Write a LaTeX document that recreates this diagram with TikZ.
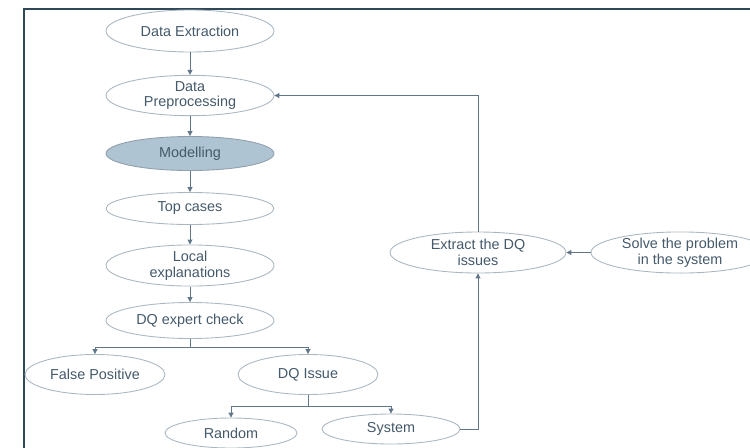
\documentclass[tikz,border=0pt]{standalone}
\usepackage{fontspec}
\setmainfont{Liberation Sans}
\usepackage{xcolor}
\usepackage{tikz}
\usetikzlibrary{shapes.geometric,arrows.meta}

\definecolor{frame}{HTML}{2F4858}
\definecolor{ink}{HTML}{44596A}
\definecolor{rim}{HTML}{A9B7C1}
\definecolor{wire}{HTML}{62768A}
\definecolor{shade}{HTML}{AEC4D2}

\begin{document}
\begin{tikzpicture}[
		box/.style={ellipse, draw=rim, line width=0.5pt, text=ink, inner sep=0pt, align=center,
			minimum width=3.36cm, minimum height=0.74cm, font=\fontsize{8.2}{8.9}\selectfont},
		flow/.style={draw=wire, line width=0.5pt, -{Triangle[length=2.8pt,width=2.8pt]}},
		link/.style={draw=wire, line width=0.5pt}
	]
		\useasboundingbox (0,0) rectangle (15,-8.94);
		\draw[frame, line width=1.3pt] (0.48,-0.18) rectangle (16,-9.5);
		\node[box, minimum height=0.84cm] (ext) at (3.8,-0.62) {Data Extraction};
		\node[box, minimum height=0.8cm] (prep) at (3.8,-1.91) {Data\\Preprocessing};
		\node[box, fill=shade, draw=wire!70, minimum height=0.68cm] (model) at (3.8,-3.07) {Modelling};
		\node[box, minimum height=0.64cm] (top) at (3.8,-4.17) {Top cases};
		\node[box, minimum height=0.72cm] (local) at (3.8,-5.31) {Local\\explanations};
		\node[box, minimum height=0.72cm] (check) at (3.8,-6.41) {DQ expert check};
		\node[box, minimum width=2.8cm, minimum height=0.8cm] (fpos) at (1.9,-7.49) {False Positive};
		\node[box, minimum width=2.8cm, minimum height=0.8cm] (dqi) at (6.16,-7.49) {DQ Issue};
		\node[box, minimum width=2.64cm, minimum height=0.6cm] (random) at (4.62,-8.66) {Random};
		\node[box, minimum width=2.76cm, minimum height=0.6cm] (system) at (7.82,-8.58) {System};
		\node[box, minimum width=3.52cm, minimum height=0.82cm] (extr) at (9.56,-5.05) {Extract the DQ\\issues};
		\node[box, minimum width=3.56cm, minimum height=0.82cm] (solve) at (13.6,-5.05) {Solve the problem\\in the system};
		\coordinate (split1) at (3.8,-6.94);
		\coordinate (split2) at (6.16,-8.12);
		\draw[flow] (ext) -- (prep);
		\draw[flow] (prep) -- (model);
		\draw[flow] (model) -- (top);
		\draw[flow] (top) -- (local);
		\draw[flow] (local) -- (check);
		\draw[link] (check.south) -- (split1);
		\draw[flow] (split1) -| (fpos.north);
		\draw[flow] (split1) -| (dqi.north);
		\draw[link] (dqi.south) -- (split2);
		\draw[flow] (split2) -| (random.north);
		\draw[flow] (split2) -| (system.north);
		\draw[flow] (system.east) -| (extr.south);
		\draw[flow] (extr.north) |- (prep.east);
		\draw[flow] (solve.west) -- (extr.east);
\end{tikzpicture}
\end{document}
